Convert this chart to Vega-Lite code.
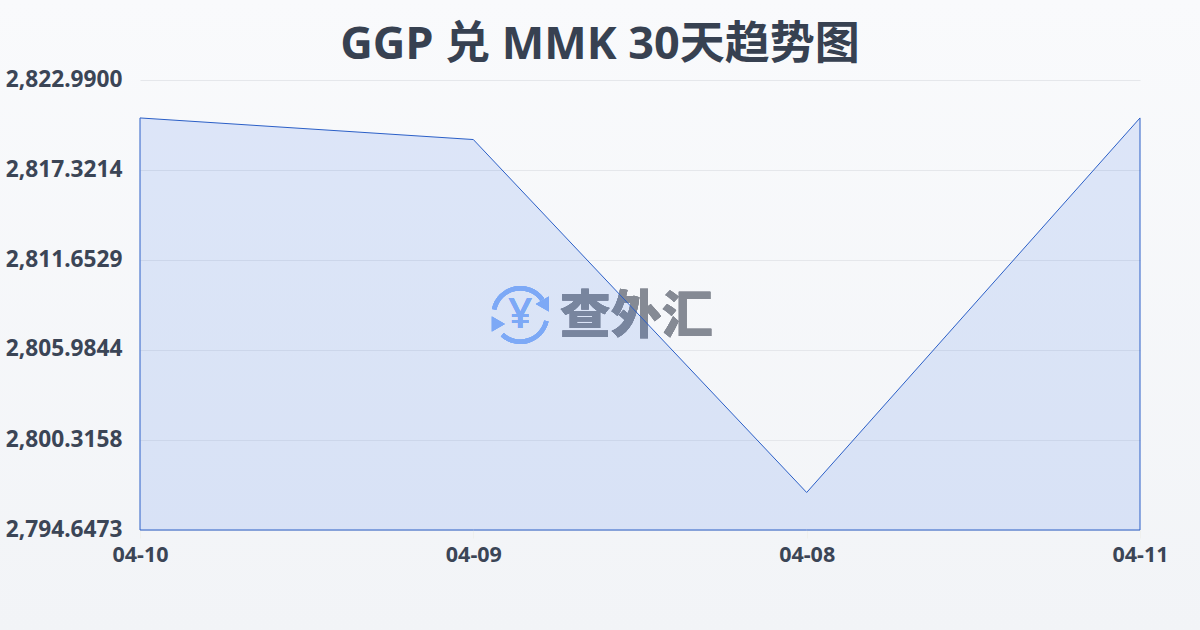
{"$schema":"https://vega.github.io/schema/vega-lite/v6.json","width":1200,"height":630,"padding":0,"autosize":{"type":"none"},"background":"#f5f7f9","view":{"stroke":null,"fill":{"gradient":"linear","x1":0,"y1":0,"x2":0,"y2":1,"stops":[{"offset":0,"color":"#f9fafc"},{"offset":1,"color":"#f2f4f7"}]}},"title":{"text":"GGP 兑 MMK 30天趋势图","font":"Noto Sans, Noto Sans CJK SC","fontSize":45,"fontWeight":700,"color":"#374151","anchor":"middle","frame":"group","offset":-104,"baseline":"alphabetic"},"data":{"values":[{"date":"04-10","rate":2820.6},{"date":"04-09","rate":2819.24},{"date":"04-08","rate":2797.01},{"date":"04-11","rate":2820.6}]},"encoding":{"x":{"field":"date","type":"ordinal","sort":null,"scale":{"type":"point","padding":0,"range":[140,1140],"domain":["04-10","04-09","04-08","04-11"]},"axis":{"orient":"bottom","offset":-100,"title":null,"labelAngle":0,"labelFont":"Noto Sans, Noto Sans CJK SC","labelFontSize":21.5,"labelFontWeight":700,"labelColor":"#3b4556","labelPadding":6,"domain":false,"ticks":true,"tickColor":"#eff0ee","tickSize":8,"grid":false}},"y":{"field":"rate","type":"quantitative","scale":{"domain":[2794.6473,2822.99],"range":[530,80],"nice":false,"zero":false},"axis":{"orient":"left","offset":-130,"title":null,"values":[2794.6473,2800.3158,2805.9844,2811.6529,2817.3214,2822.99],"format":",.4f","labelFont":"Noto Sans, Noto Sans CJK SC","labelFontSize":22.7,"labelFontWeight":700,"labelColor":"#3b4556","labelPadding":8,"labelOffset":-1,"domain":false,"ticks":false,"grid":true,"gridColor":"#e5e7eb","gridWidth":1}}},"layer":[{"mark":{"type":"text","text":"查外汇","font":"Noto Sans CJK SC","fontSize":51,"fontWeight":900,"fill":"#858a94","dx":163,"dy":3,"align":"center","baseline":"middle"},"encoding":{"x":{"datum":"04-09"},"y":{"datum":2808.19}}},{"mark":{"type":"text","text":"¥","font":"Noto Sans","fontSize":42,"fontWeight":500,"fill":"#8ab4f8","dx":47,"align":"center","baseline":"middle"},"encoding":{"x":{"datum":"04-09"},"y":{"datum":2808.19}}},{"mark":{"type":"arc","fill":"#8ab4f8","radius":29,"radius2":24.5,"theta":-1.36,"theta2":0.96,"xOffset":47},"encoding":{"x":{"datum":"04-09"},"y":{"datum":2808.19}}},{"mark":{"type":"arc","fill":"#8ab4f8","radius":29,"radius2":24.5,"theta":1.8,"theta2":3.88,"xOffset":47},"encoding":{"x":{"datum":"04-09"},"y":{"datum":2808.19}}},{"mark":{"type":"point","shape":"triangle-left","filled":true,"fill":"#8ab4f8","opacity":1,"size":225,"xOffset":69,"yOffset":-11},"encoding":{"x":{"datum":"04-09"},"y":{"datum":2808.19}}},{"mark":{"type":"point","shape":"triangle-right","filled":true,"fill":"#8ab4f8","opacity":1,"size":225,"xOffset":25,"yOffset":9},"encoding":{"x":{"datum":"04-09"},"y":{"datum":2808.19}}},{"mark":{"type":"area","fill":"#2563eb","fillOpacity":0.13,"stroke":"#2b5fc7","strokeWidth":1,"line":false,"interpolate":"linear"},"encoding":{"y2":{"datum":2794.6473}}}]}
